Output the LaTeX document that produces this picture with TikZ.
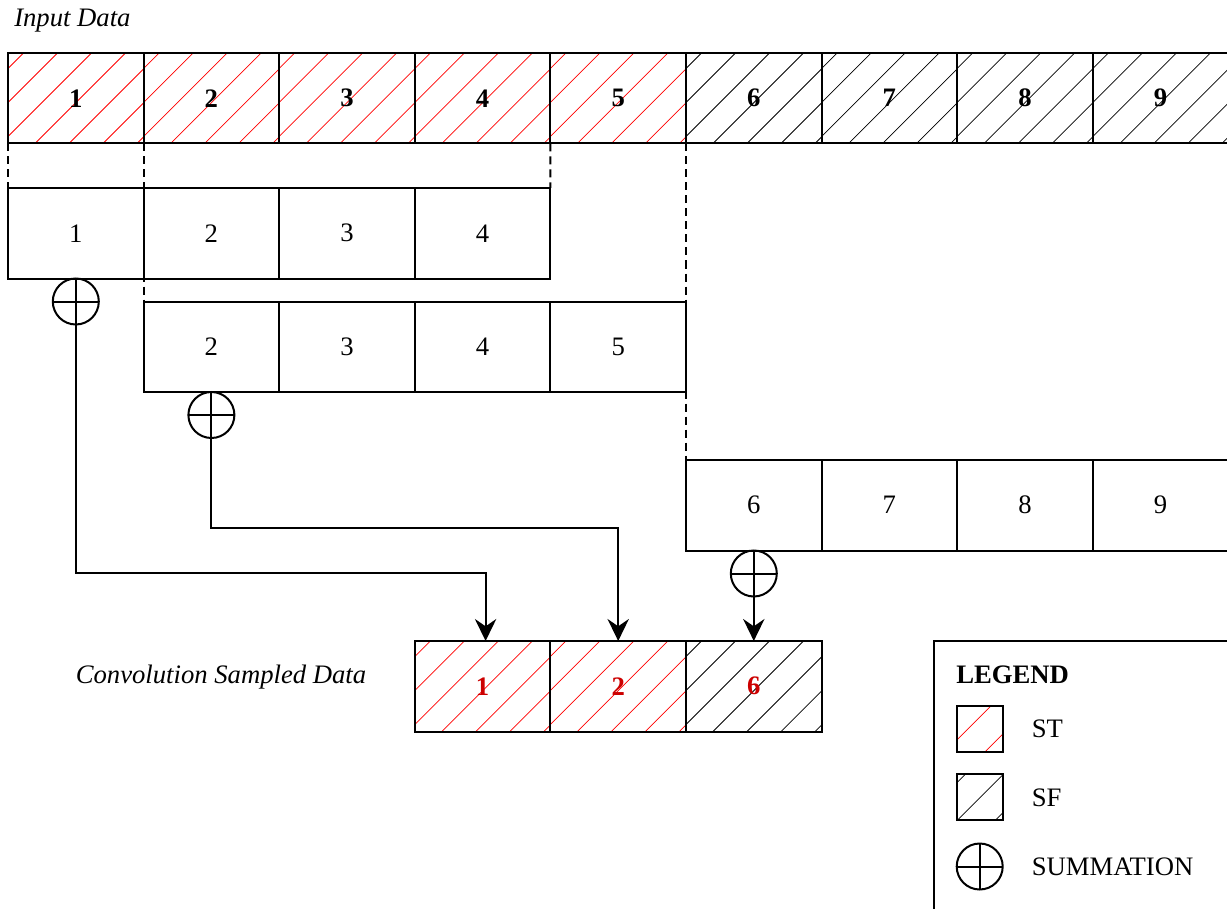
\documentclass[tikz,border=0pt]{standalone}
\usepackage{fontspec}
\setmainfont{Liberation Serif}
\usetikzlibrary{calc,arrows.meta}
\definecolor{outred}{HTML}{CC0000}
\newcommand\myfs{\fontsize{20}{24}\selectfont}
\begin{document}
\begin{tikzpicture}[x=0.75pt,y=-0.75pt,
  cell/.style={draw, line width=1.5pt, minimum width=101.7pt, minimum height=67.875pt,
    inner sep=0pt, outer sep=0pt, font=\myfs},
  boldcell/.style={cell, font=\myfs\bfseries},
  hatch/.style n args={3}{path picture={
    \foreach \k in {-4,...,4}{
      \draw[#1, line width=0.55pt] ($(path picture bounding box.south west)+({#2+#3*\k},0)$) -- ++(160,-160);
    }}},
  sum/.style={circle, draw, line width=1.5pt, minimum size=34.5pt, inner sep=0pt, outer sep=0pt,
    path picture={\draw[line width=1.5pt] (path picture bounding box.north) -- (path picture bounding box.south)
      (path picture bounding box.east) -- (path picture bounding box.west);}},
  dashln/.style={line width=1.5pt, dash pattern=on 6pt off 3.75pt},
  conn/.style={line width=1.5pt, -{Stealth[length=16.5pt,width=16pt,inset=5.5pt]}},
  lab/.style={font=\myfs, inner sep=0pt},
  ilab/.style={font=\myfs\itshape, inner sep=0pt}
]
\clip (0,0) rectangle (1227,909);

% top row
\foreach \i in {1,...,5}
  \node[boldcell, hatch={red}{27}{34}] (t\i) at ({8+135.6*(\i-0.5)},98.25) {\i};
\foreach \i in {6,...,9}
  \node[boldcell, hatch={black}{27}{34}] (t\i) at ({8+135.6*(\i-0.5)},98.25) {\i};

% row 2
\foreach \i in {1,...,4}
  \node[cell] (r2c\i) at ({8+135.6*(\i-0.5)},233.25) {\i};
% row 3
\foreach \i in {2,...,5}
  \node[cell] (r3c\i) at ({8+135.6*(\i-0.5)},346.75) {\i};
% row 4
\foreach \i in {6,...,9}
  \node[cell] (r4c\i) at ({8+135.6*(\i-0.5)},505.25) {\i};

% output row
\node[boldcell, hatch={red}{27}{34}, text=outred] (o1) at ({8+135.6*3.5},686.25) {1};
\node[boldcell, hatch={red}{27}{34}, text=outred] (o2) at ({8+135.6*4.5},686.25) {2};
\node[boldcell, hatch={black}{27}{34}, text=outred] (o6) at ({8+135.6*5.5},686.25) {6};

% dashed guides
\draw[dashln] (t1.south west) -- (r2c1.north west);
\draw[dashln] (t2.south west) -- (r3c2.north west);
\draw[dashln] (t5.south west) -- (r2c4.north east);
\draw[dashln] (t6.south west) -- (r4c6.north west);

% summations
\node[sum, anchor=north] (s1) at (r2c1.south) {};
\node[sum, anchor=north] (s2) at (r3c2.south) {};
\node[sum, anchor=north] (s3) at (r4c6.south) {};

% connectors
\coordinate (b1) at (0,573);
\coordinate (b2) at (0,528);
\draw[conn] (s1.south) |- ($(o1.north |- b1)+(3,0)$) -- ($(o1.north)+(3,0)$);
\draw[conn] (s2.south) |- (o2.north |- b2) -- (o2.north);
\draw[conn] (s3.south) -- (o6.north);

% labels
\node[ilab, anchor=base west] (inlab) at (14,27) {Input Data};
\node[ilab, anchor=base] (convlab) at (221,683) {Convolution Sampled Data};

% legend
\node[draw, line width=1.5pt, anchor=north west, minimum width=300pt, minimum height=300pt,
  inner sep=0pt, outer sep=0pt] (legend) at (934,641) {};
\node[lab, anchor=base west, font=\myfs\bfseries] (legt) at (956,683) {LEGEND};
\node[draw, line width=1.5pt, minimum size=34.5pt, inner sep=0pt, outer sep=0pt,
  hatch={red}{-12}{40}] (kst) at (979.7,729.2) {};
\node[draw, line width=1.5pt, minimum size=34.5pt, inner sep=0pt, outer sep=0pt,
  hatch={black}{1}{38}] (ksf) at (979.7,797) {};
\node[sum] (ksum) at (979.7,866.5) {};
\node[lab, anchor=base west] (stlab) at (1031.5,737) {ST};
\node[lab, anchor=base west] (sflab) at (1031.5,806) {SF};
\node[lab, anchor=base west] (sumlab) at (1031.5,875) {SUMMATION};
\end{tikzpicture}
\end{document}
